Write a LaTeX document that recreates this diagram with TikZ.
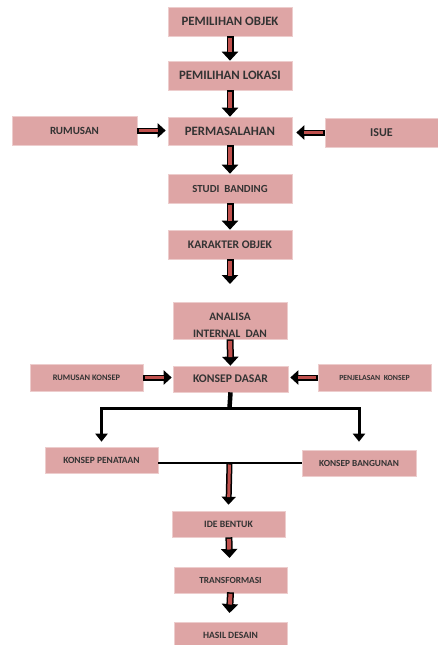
\documentclass[tikz,border=0pt]{standalone}
\usepackage{fontspec}
\setmainfont{Carlito}
\usetikzlibrary{positioning,arrows.meta}

\definecolor{boxpink}{RGB}{222,165,165}
\definecolor{arrowred}{RGB}{192,80,77}

\newcommand{\fsz}[1]{\fontsize{#1}{1.2\dimexpr#1pt\relax}\selectfont\bfseries}

\tikzset{
  flowbox/.style={rectangle, fill=boxpink, draw=boxpink!55!white, line width=0.6pt,
    minimum width=124pt, minimum height=29pt, inner sep=1pt, text=black!80,
    font=\fsz{11}, align=center},
  smallbox/.style={flowbox, minimum width=113pt, minimum height=26pt},
  bigarrow/.style={draw=black, line width=7pt, -{Triangle[length=9pt,width=16pt]},
    postaction={draw=arrowred, line width=4pt, -, shorten >=8.5pt, shorten <=1.5pt}},
  sidearrow/.style={draw=black, line width=6pt, -{Triangle[length=8pt,width=14pt]},
    postaction={draw=arrowred, line width=3pt, -, shorten >=7.5pt, shorten <=1.5pt}},
  branch/.style={draw=black, line width=3pt, -{Triangle[length=8pt,width=12pt]}},
}

\begin{document}
\begin{tikzpicture}[x=1pt,y=-1pt]
\useasboundingbox (0,0) rectangle (438,645);

% upper part
\node[flowbox, font=\fsz{12.8}] (obj) at (230,21.5) {PEMILIHAN OBJEK};
\node[flowbox, font=\fsz{12.8}] (lok) at (230,75.5) {PEMILIHAN LOKASI};
\node[flowbox, minimum width=125pt, font=\fsz{11}] (rum) at (74.5,130.5) {RUMUSAN};
\node[flowbox, minimum height=28pt, font=\fsz{12.8}] (perm) at (230,131) {PERMASALAHAN};
\node[flowbox, minimum width=113pt, font=\fsz{12}] (isue) at (381.5,132.5) {ISUE};
\node[flowbox, font=\fsz{10.8}] (studi) at (230,188.5) {STUDI~~BANDING};
\node[flowbox, font=\fsz{11.6}] (kar) at (230,244.5) {KARAKTER OBJEK};
\node[smallbox, minimum width=114pt, minimum height=37pt, font=\fsz{11.4}] (anal) at (230,320.5) {\rule{0pt}{17pt}ANALISA\\[3pt]INTERNAL~~DAN};

% konsep
\node[smallbox, minimum width=115pt, font=\fsz{11.7}] (kd) at (230.5,379) {KONSEP DASAR};
\node[smallbox, minimum height=27pt, font=\fsz{8.4}] (rumk) at (86.5,377.5) {RUMUSAN KONSEP};
\node[smallbox, minimum height=27pt, font=\fsz{7.8}] (penj) at (374.5,377.5) {PENJELASAN~~KONSEP};
\node[smallbox, font=\fsz{9.5}] (kpt) at (101.5,460) {KONSEP PENATAAN};
\node[smallbox, minimum width=114pt, font=\fsz{9.3}] (kb) at (359,463) {KONSEP BANGUNAN};

% lower part
\node[smallbox, font=\fsz{9.7}] (ide) at (228.5,524) {IDE BENTUK};
\node[smallbox, font=\fsz{9.3}] (trans) at (230.5,580) {TRANSFORMASI};
\node[smallbox, font=\fsz{9.6}] (hasil) at (230.5,635) {HASIL DESAIN};

\coordinate (karend) at (230,284);
\coordinate (split) at (229.5,408);
\coordinate (ideend) at (229.5,558);
\coordinate (hasend) at (229.5,613);

\draw[bigarrow] (obj) -- (lok);
\draw[bigarrow] (lok) -- (perm);
\draw[sidearrow] (rum.east) -- ([xshift=-2pt]rum.east -| perm.west);
\draw[sidearrow] (isue.west) -- ([xshift=4pt]isue.west -| perm.east);
\draw[bigarrow] (perm) -- (studi);
\draw[bigarrow] (studi) -- (kar);
\draw[bigarrow] (kar) -- (karend);
\draw[bigarrow] (anal) -- (kd);
\draw[sidearrow] (rumk.east) -- ([xshift=-1pt]rumk.east -| kd.west);
\draw[sidearrow] (penj.west) -- ([xshift=2pt]penj.west -| kd.east);

% branches
\draw[line width=4.5pt] (kd.south) -- (split);
\draw[branch] (split) -| ([yshift=5pt]kpt.north);
\draw[branch] (split) -| ([yshift=8pt]kb.north);
\draw[line width=2.5pt] (kb.west -| kpt.east) coordinate (joinl) -- (kb.west);
\draw[sidearrow] (joinl -| split) -- ([yshift=6pt]ide.north);

\draw[bigarrow] (ide) -- (ideend);
\draw[bigarrow] ([yshift=1pt]trans.south) -- (hasend);

\end{tikzpicture}
\end{document}
